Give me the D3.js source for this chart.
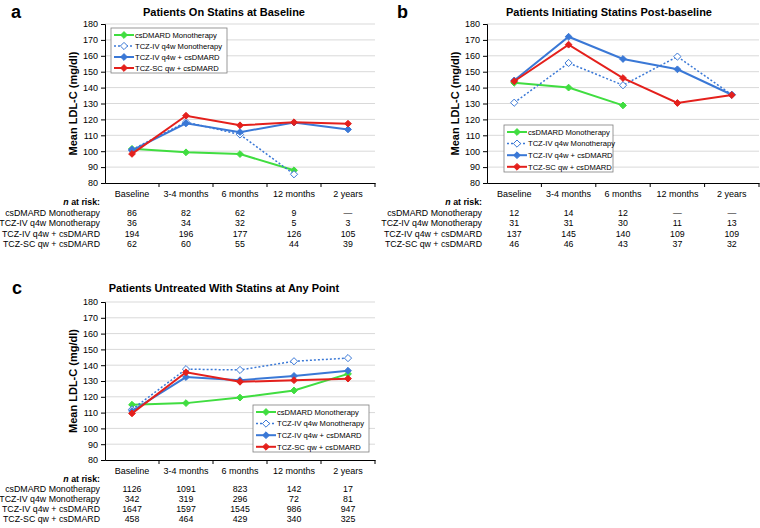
<!DOCTYPE html>
<html><head><meta charset="utf-8">
<script src="https://cdn.jsdelivr.net/npm/d3@7"></script>
<style>body{margin:0;background:#fff;} svg{display:block;font-family:"Liberation Sans",Arial,sans-serif;}</style>
</head><body>
<script>
const categories = ["Baseline","3-4 months","6 months","12 months","2 years"];
const seriesNames = ["csDMARD Monotherapy","TCZ-IV q4w Monotherapy","TCZ-IV q4w + csDMARD","TCZ-SC qw + csDMARD"];
const yTicks = [80,90,100,110,120,130,140,150,160,170,180];

// Panel a: Patients On Statins at Baseline
const aCsdmard = [101.5, 99.3, 98.2, 88.0, null];
const aTczIvMono = [101.0, 118.3, 110.5, 85.5, null];
const aTczIvCs = [100.5, 117.5, 112.0, 118.0, 113.7];
const aTczSc = [98.3, 122.3, 116.3, 118.2, 117.3];
const aRisk = [["86","82","62","9","—"],["36","34","32","5","3"],["194","196","177","126","105"],["62","60","55","44","39"]];

// Panel b: Patients Initiating Statins Post-baseline
const bCsdmard = [143.0, 140.0, 128.8, null, null];
const bTczIvMono = [130.5, 155.5, 141.5, 159.5, 135.5];
const bTczIvCs = [144.5, 172.0, 158.0, 151.5, 135.5];
const bTczSc = [144.0, 167.0, 146.0, 130.3, 135.3];
const bRisk = [["12","14","12","—","—"],["31","31","30","11","13"],["137","145","140","109","109"],["46","46","43","37","32"]];

// Panel c: Patients Untreated With Statins at Any Point
const cCsdmard = [115.0, 116.0, 119.5, 124.0, 134.5];
const cTczIvMono = [112.0, 137.5, 137.0, 142.5, 144.5];
const cTczIvCs = [111.0, 132.5, 130.5, 133.2, 136.5];
const cTczSc = [109.5, 135.5, 129.5, 130.5, 131.5];
const cRisk = [["1126","1091","823","142","17"],["342","319","296","72","81"],["1647","1597","1545","986","947"],["458","464","429","340","325"]];

const styles = [
  {color:"#40dd40", dash:null, open:false, w:2},
  {color:"#3a78d6", dash:"2,2", open:true, w:1.5},
  {color:"#3a78d6", dash:null, open:false, w:2},
  {color:"#e4201c", dash:null, open:false, w:2}
];

const svg = d3.select("body").append("svg").attr("width",760).attr("height",528);

function marker(g, cx, cy, st){
  const s = st.open ? 3.6 : 3.4;
  g.append("path")
    .attr("d", `M${cx},${cy-s}L${cx+s},${cy}L${cx},${cy+s}L${cx-s},${cy}Z`)
    .attr("fill", st.open ? "#fff" : st.color)
    .attr("stroke", st.color).attr("stroke-width", st.open ? 1 : 1);
}

function panel(p){
  const g = svg.append("g");
  const x = d3.scaleBand().domain(categories).range([p.x0, p.x1]).padding(0);
  const y = d3.scaleLinear().domain([80,180]).range([p.yb, p.yt]);

  // gridlines
  g.append("g").selectAll("line").data(yTicks.filter(t=>t>80)).join("line")
    .attr("x1", p.x0).attr("x2", p.x1).attr("y1", d=>y(d)).attr("y2", d=>y(d))
    .attr("stroke","#d9d9d9").attr("stroke-width",1);

  // y axis
  const ya = g.append("g").attr("transform",`translate(${p.x0},0)`)
    .call(d3.axisLeft(y).tickValues(yTicks).tickSize(4).tickPadding(3));
  ya.select(".domain").attr("stroke","#000");
  ya.selectAll(".tick line").attr("stroke","#000");
  ya.selectAll("text").attr("font-size","9px").attr("fill","#000").attr("font-family","Liberation Sans, Arial");

  // x axis
  const xa = g.append("g").attr("transform",`translate(0,${p.yb})`)
    .call(d3.axisBottom(x).tickSize(0).tickPadding(8));
  xa.select(".domain").attr("stroke","#000");
  xa.selectAll("text").attr("font-size","9px").attr("fill","#000").attr("font-family","Liberation Sans, Arial");
  const edges = categories.map(c=>x(c)).concat([p.x1]).slice(1);
  g.append("g").selectAll("line").data(edges).join("line")
    .attr("x1",d=>d).attr("x2",d=>d).attr("y1",p.yb).attr("y2",p.yb+4)
    .attr("stroke","#000");

  // series
  const cx = c => x(c) + x.bandwidth()/2;
  p.series.forEach((vals, i) => {
    const st = styles[i];
    const pts = categories.map((c,j)=>({c, v: vals[j]}));
    const line = d3.line().defined(d=>d.v!=null).x(d=>cx(d.c)).y(d=>y(d.v));
    g.append("path").datum(pts).attr("d", line).attr("fill","none")
      .attr("stroke", st.color).attr("stroke-width", st.w)
      .attr("stroke-dasharray", st.dash);
    pts.filter(d=>d.v!=null).forEach(d=>marker(g, cx(d.c), y(d.v), st));
  });
  // draw order: ensure red on top is natural

  // title, letter, y label
  g.append("text").attr("x", p.titleX).attr("y", p.titleY).attr("text-anchor","middle")
    .attr("font-size","11px").attr("font-weight","bold").text(p.title);
  g.append("text").attr("x", p.letterX).attr("y", p.letterY)
    .attr("font-size","18px").attr("font-weight","bold").text(p.letter);
  g.append("text").attr("transform",`translate(${p.x0-28},${(p.yt+p.yb)/2}) rotate(-90)`)
    .attr("text-anchor","middle").attr("font-size","11px").attr("font-weight","bold")
    .text("Mean LDL-C (mg/dl)");

  // legend
  const L = p.legend;
  g.append("rect").attr("x",L.x).attr("y",L.y).attr("width",L.w).attr("height",L.h)
    .attr("fill","#fff").attr("stroke","#7f7f7f").attr("stroke-width",0.8);
  seriesNames.forEach((nm,i)=>{
    const st = styles[i];
    const yy = L.y + 7 + i*L.dy;
    g.append("line").attr("x1",L.x+3).attr("x2",L.x+23).attr("y1",yy).attr("y2",yy)
      .attr("stroke",st.color).attr("stroke-width",st.w).attr("stroke-dasharray",st.dash);
    marker(g, L.x+13, yy, st);
    g.append("text").attr("x",L.x+24).attr("y",yy+2.8).attr("font-size","7.6px").text(nm);
  });

  // n at risk table
  const rx = p.x0 - 5;
  const hdr = g.append("text").attr("x",rx).attr("y",p.riskY).attr("text-anchor","end")
    .attr("font-size","8.8px").attr("font-weight","bold");
  hdr.append("tspan").attr("font-style","italic").text("n");
  hdr.append("tspan").text(" at risk:");
  seriesNames.forEach((nm,i)=>{
    const yy = p.riskY + p.riskDy*(i+1);
    g.append("text").attr("x",rx).attr("y",yy).attr("text-anchor","end").attr("font-size","8.8px").text(nm);
    categories.forEach((c,j)=>{
      g.append("text").attr("x",cx(c)).attr("y",yy).attr("text-anchor","middle").attr("font-size","8.8px").text(p.risk[i][j]);
    });
  });
}

panel({x0:105, x1:375, yt:24, yb:183, title:"Patients On Statins at Baseline", titleX:224, titleY:16,
  letter:"a", letterX:11, letterY:18,
  series:[aCsdmard,aTczIvMono,aTczIvCs,aTczSc], risk:aRisk,
  legend:{x:111, y:28, w:116, h:45, dy:11}, riskY:205, riskDy:10.6});
panel({x0:487, x1:759, yt:24, yb:183, title:"Patients Initiating Statins Post-baseline", titleX:609, titleY:16,
  letter:"b", letterX:397, letterY:18,
  series:[bCsdmard,bTczIvMono,bTczIvCs,bTczSc], risk:bRisk,
  legend:{x:504, y:125, w:109, h:47, dy:11.6}, riskY:205, riskDy:10.6});
panel({x0:105, x1:375, yt:302, yb:460, title:"Patients Untreated With Statins at Any Point", titleX:224, titleY:292,
  letter:"c", letterX:12, letterY:294,
  series:[cCsdmard,cTczIvMono,cTczIvCs,cTczSc], risk:cRisk,
  legend:{x:253, y:405, w:116, h:47, dy:11.6}, riskY:482, riskDy:10.1});
</script>
</body></html>
